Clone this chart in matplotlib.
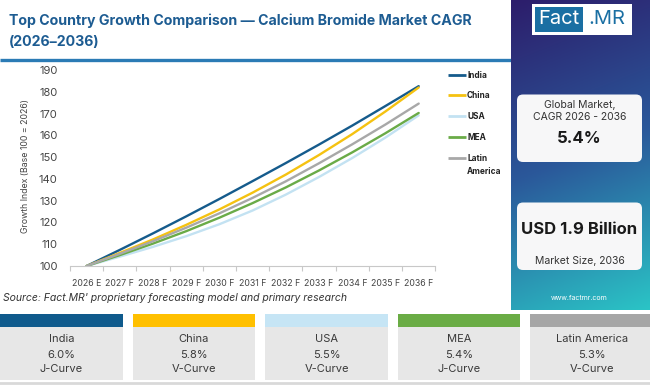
import matplotlib
matplotlib.use("Agg")
import matplotlib.pyplot as plt
import numpy as np
from matplotlib.patches import Rectangle, FancyBboxPatch

# ---------------- data ----------------
years = ["2026 E", "2027 F", "2028 F", "2029 F", "2030 F", "2031 F",
         "2032 F", "2033 F", "2034 F", "2035 F", "2036 F"]
series_names = ["India", "China", "USA", "MEA", "Latin America"]
india = [100, 107.4, 115.0, 122.8, 130.8, 139.0, 147.3, 155.8, 164.5, 173.5, 182.6]
china = [100, 106.0, 112.2, 118.9, 126.0, 133.7, 142.0, 151.0, 160.6, 171.0, 182.0]
usa = [100, 104.3, 108.8, 113.7, 119.2, 125.5, 132.8, 140.9, 149.6, 159.0, 169.2]
mea = [100, 105.0, 110.3, 116.0, 122.2, 128.9, 136.1, 143.9, 152.2, 161.0, 170.3]
latam = [100, 105.6, 111.4, 117.6, 124.2, 131.3, 138.9, 147.2, 155.9, 165.0, 174.6]
cagr = ["6.0%", "5.8%", "5.5%", "5.4%", "5.3%"]
curve = ["J-Curve", "V-Curve", "V-Curve", "J-Curve", "V-Curve"]
yticks = [100, 110, 120, 130, 140, 150, 160, 170, 180, 190]
global_cagr = "5.4%"
market_size = "USD 1.9 Billion"

colors = ["#155b8c", "#f5c211", "#c3e2f2", "#6aab48", "#a8a8a8"]
strip_colors = ["#0f5a8c", "#ffc000", "#c6e5f5", "#6aac45", "#a6a6a6"]
values = [india, china, usa, mea, latam]

FONT = "Inter"
W, H = 650, 385
fig = plt.figure(figsize=(6.5, 3.85), dpi=100)
fig.patch.set_facecolor("white")

# overlay axes in pixel coords
ov = fig.add_axes([0, 0, 1, 1], zorder=0)
ov.set_xlim(0, W)
ov.set_ylim(H, 0)
ov.axis("off")

# title
ov.text(9, 21, "Top Country Growth Comparison \u2014 Calcium Bromide Market CAGR",
        fontsize=10.2, family=FONT, weight="bold", color="#1d5c92", ha="left", va="center", zorder=1)
ov.text(9, 42, "(2026\u20132036)", fontsize=10.2, family=FONT, weight="bold", color="#1d5c92",
        ha="left", va="center", zorder=1)
ov.plot([0, 511], [59.5, 59.5], color="#2b7bb5", lw=2.4, solid_capstyle="butt", zorder=1)

# gradient panel
ny = 200
t = np.linspace(0, 1, ny)[:, None]
sx = np.linspace(0, 1, 50)[None, :]
mix = np.clip(0.85 * t + 0.15 * sx, 0, 1)
top = np.array([0x2d, 0x1d, 0x6b]) / 255
mid = np.array([0x2a, 0x58, 0x9a]) / 255
bot = np.array([0x2b, 0xc4, 0xc6]) / 255
img = np.zeros((ny, 50, 3))
for c in range(3):
    img[..., c] = np.where(mix < 0.5,
                           top[c] + (mid[c] - top[c]) * (mix / 0.5),
                           mid[c] + (bot[c] - mid[c]) * ((mix - 0.5) / 0.5))
ov.imshow(img, extent=(511, 650, 310, 0), aspect="auto", zorder=2)

# logo
ov.add_patch(Rectangle((532, 3.5), 100, 31, facecolor="white", edgecolor="none", zorder=3))
ov.add_patch(Rectangle((535, 6.5), 48, 25, facecolor="#1a6fa3", edgecolor="none", zorder=4))
ov.text(559, 19.5, "Fact", color="white", fontsize=14.5, family=FONT, ha="center", va="center", zorder=5)
ov.text(607, 19.5, ".MR", color="#1a6fa3", fontsize=14.5, family=FONT, ha="center", va="center", zorder=5)

# cards
for (y0, y1) in [(94.5, 162), (202.5, 270)]:
    ov.add_patch(FancyBboxPatch((517, y0), 125, y1 - y0, boxstyle="round,pad=0,rounding_size=6",
                                facecolor="#f7f7f8", edgecolor="none", zorder=3))
ov.text(579.5, 104.5, "Global Market,", fontsize=7.5, family=FONT, color="#333333", ha="center", va="center", zorder=4)
ov.text(579.5, 117, "CAGR 2026 - 2036", fontsize=7.5, family=FONT, color="#333333", ha="center", va="center", zorder=4)
ov.text(579.5, 138.5, global_cagr, fontsize=12, family=FONT, weight="bold", color="#1a1a1a", ha="center", va="center", zorder=4)
ov.text(579.5, 230, market_size, fontsize=12, family=FONT, weight="bold", color="#1a1a1a", ha="center", va="center", zorder=4)
ov.text(579.5, 261, "Market Size, 2036", fontsize=7.5, family=FONT, color="#333333", ha="center", va="center", zorder=4)
ov.text(579.5, 298, "www.factmr.com", fontsize=5, family=FONT, color="white", ha="center", va="center", zorder=4)

# source
ov.text(3, 298, "Source: Fact.MR' proprietary forecasting model and primary research",
        fontsize=7.5, family=FONT, style="italic", color="#333333", ha="left", va="center")

# bottom boxes
for i, name in enumerate(series_names):
    x0 = i * 132.6
    ov.add_patch(Rectangle((x0, 314.3), 122.6, 12.4, facecolor=strip_colors[i], edgecolor="none"))
    ov.add_patch(Rectangle((x0, 326.7), 122.6, 53.5, facecolor="#e7e7e7", edgecolor="none"))
    cx = x0 + 61.3
    ov.text(cx, 339.5, name, fontsize=8, family=FONT, color="#3a3a3a", ha="center", va="center")
    ov.text(cx, 354.5, cagr[i], fontsize=8, family=FONT, color="#3a3a3a", ha="center", va="center")
    ov.text(cx, 369.5, curve[i], fontsize=8, family=FONT, color="#3a3a3a", ha="center", va="center")
ov.plot([0, 650], [382.5, 382.5], color="#d9d9d9", lw=2)

# legend (manual)
leg_y = [74.7, 95, 115.7, 137, 157.7]
leg_labels = ["India", "China", "USA", "MEA", "Latin\nAmerica"]
for i, lab in enumerate(leg_labels):
    ov.plot([448.3, 466], [leg_y[i], leg_y[i]], color=colors[i], lw=2, solid_capstyle="butt")
    ov.text(467, leg_y[i] - 3.5, lab, fontsize=6, family=FONT, weight="bold", color="#222222",
            ha="left", va="top", linespacing=1.5)

# main chart
ax = fig.add_axes([70 / W, (H - 266) / H, (435.3 - 70) / W, (266 - 65.7) / H], zorder=2)
ax.patch.set_alpha(0)
x = np.arange(len(years))
for i, v in enumerate(values):
    ax.plot(x, v, color=colors[i], lw=1.7, label=series_names[i], solid_capstyle="round")
ax.set_xlim(-0.5, len(years) - 0.5)
ax.set_ylim(100, 192)
ax.set_yticks(yticks)
ax.set_yticklabels([str(v) for v in yticks], fontsize=8, family=FONT, color="#444444")
ax.set_xticks(x)
ax.set_xticklabels(years, fontsize=6.3, family=FONT, color="#444444")
ax.set_xticks(np.arange(-0.5, len(years)), minor=True)
ax.tick_params(axis="x", which="major", length=0, pad=9)
ax.tick_params(axis="x", which="minor", length=3.5, color="#c8c8c8", width=0.8)
ax.tick_params(axis="y", length=0, pad=9)
for s in ["top", "right", "left"]:
    ax.spines[s].set_visible(False)
ax.spines["bottom"].set_color("#c8c8c8")
ax.spines["bottom"].set_linewidth(0.8)
ax.set_ylabel("Growth Index (Base 100 = 2026)", fontsize=6.3, family=FONT, color="#444444", labelpad=6)

fig.savefig("out.png", dpi=100, facecolor="white")
